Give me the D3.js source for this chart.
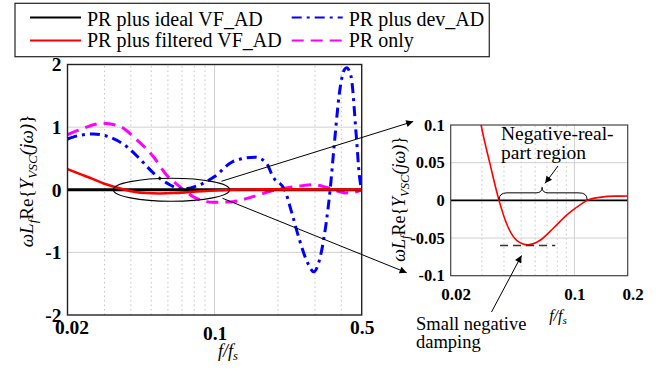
<!doctype html>
<html>
<meta charset="utf-8">
<style>
body { margin: 0; padding: 0; background: #fff; }
svg text { font-family: 'Liberation Serif', Tinos, 'Times New Roman', Times, 'Nimbus Roman', 'DejaVu Serif', serif; fill: #000; }
</style>
<body>
<svg width="664" height="375"></svg>
<script src="https://cdn.jsdelivr.net/npm/d3@7"></script>
<script>

// ---- data (f/fs , omega*Lf*Re{Y}) ----
var fIdeal = [0.02, 0.5];
var yIdeal = [0, 0];

var fDev = [0.02, 0.0229, 0.0265, 0.0318, 0.0382, 0.0445, 0.0511, 0.0612, 0.0706, 0.085, 0.1,
            0.122, 0.155, 0.176, 0.189, 0.2149, 0.2355, 0.253, 0.277, 0.296, 0.315, 0.339,
            0.354, 0.371, 0.392, 0.414, 0.424, 0.445, 0.47, 0.488, 0.5];
var yDev = [0.81, 0.87, 0.89, 0.84, 0.69, 0.48, 0.27, 0.08, 0.01, 0.08, 0.21,
            0.45, 0.52, 0.43, 0.21, 0, -0.43, -0.8, -1.17, -1.31, -1.12, -0.53,
            0, 0.75, 1.55, 1.92, 1.95, 1.81, 0.91, 0.21, 0];

var fFilt = [0.02, 0.023, 0.0265, 0.0297, 0.0333, 0.0375, 0.0414, 0.0472, 0.0548, 0.064,
             0.076, 0.0904, 0.1076, 0.118, 0.139, 0.17, 0.2, 0.3, 0.5];
var yFilt = [0.33, 0.25, 0.17, 0.1, 0.049, 0, -0.031, -0.053, -0.059, -0.053,
             -0.037, -0.0195, -0.006, 0, 0.004, 0.0056, 0.0057, 0.005, 0.004];

var fPR = [0.02, 0.0229, 0.0295, 0.0355, 0.0426, 0.0511, 0.059, 0.0683, 0.079, 0.0985,
           0.122, 0.152, 0.196, 0.253, 0.292, 0.339, 0.392, 0.42, 0.46, 0.5];
var yPR = [0.88, 0.96, 1.06, 1.01, 0.8, 0.53, 0.24, 0.05, -0.11, -0.2,
           -0.19, -0.11, 0, 0.06, 0.08, 0.04, -0.03, -0.05, -0.04, 0];

var legendNames = ["PR plus ideal VF_AD", "PR plus dev_AD", "PR plus filtered VF_AD", "PR only"];

var mainXTicks = [0.02, 0.1, 0.5];
var mainYTicks = [-2, -1, 0, 1, 2];
var zoomXTicks = [0.02, 0.1, 0.2];
var zoomYTicks = [-0.1, -0.05, 0, 0.05, 0.1];
var mainMinor = [0.03, 0.04, 0.05, 0.06, 0.07, 0.08, 0.09, 0.2, 0.3, 0.4];
var zoomMinor = [0.03, 0.04, 0.05, 0.06, 0.07, 0.08, 0.09];

// zoomed region and the damping level marked in the inset
var regionF = [0.033, 0.118];
var dampF = [0.038, 0.078];
var dampY = -0.06;

var SERIF = "'Liberation Serif', Tinos, 'Times New Roman', Times, 'Nimbus Roman', 'DejaVu Serif', serif";

function pts(fs, ys) { return fs.map(function(f, i) { return [f, ys[i]]; }); }

var series = [
  {name: legendNames[3], data: pts(fPR, yPR),       color: "#ff00ff", dash: "12,7",      w: 3},
  {name: legendNames[1], data: pts(fDev, yDev),     color: "#0000ff", dash: "10,5,3,5",  w: 3},
  {name: legendNames[0], data: pts(fIdeal, yIdeal), color: "#000000", dash: null,        w: 3.2},
  {name: legendNames[2], data: pts(fFilt, yFilt),   color: "#ff0000", dash: null,        w: 2.6}
];

var svg = d3.select("svg");

// ---- defs: arrow marker + clips ----
var defs = svg.append("defs");
defs.append("marker").attr("id", "arr")
    .attr("viewBox", "0 0 10 10").attr("refX", 10).attr("refY", 5)
    .attr("markerWidth", 11).attr("markerHeight", 7).attr("markerUnits", "userSpaceOnUse")
    .attr("orient", "auto")
  .append("path").attr("d", "M0,0 L10,5 L0,10 z").attr("fill", "#000");

// ---- main plot ----
var x = d3.scaleLog().domain([0.02, 0.5]).range([67.5, 361.7]);
var y = d3.scaleLinear().domain([-2, 2]).range([315, 64.5]);

defs.append("clipPath").attr("id", "clipMain").append("rect")
    .attr("x", x.range()[0]).attr("y", y.range()[1])
    .attr("width", x.range()[1] - x.range()[0]).attr("height", y.range()[0] - y.range()[1]);

var gm = svg.append("g");

// grid
gm.selectAll(".vmin").data(mainMinor).enter().append("line")
    .attr("x1", function(d) { return x(d); }).attr("x2", function(d) { return x(d); })
    .attr("y1", y(-2)).attr("y2", y(2))
    .attr("stroke", "#c4c4c4").attr("stroke-width", 1).attr("stroke-dasharray", "1.5,3");
gm.append("line").attr("x1", x(0.1)).attr("x2", x(0.1)).attr("y1", y(-2)).attr("y2", y(2))
    .attr("stroke", "#d0d0d0").attr("stroke-width", 1);
gm.selectAll(".hg").data([-1, 1]).enter().append("line")
    .attr("x1", x(0.02)).attr("x2", x(0.5))
    .attr("y1", function(d) { return y(d); }).attr("y2", function(d) { return y(d); })
    .attr("stroke", "#d0d0d0").attr("stroke-width", 1);

var line = d3.line().x(function(d) { return x(d[0]); }).y(function(d) { return y(d[1]); })
    .curve(d3.curveMonotoneX);

var gc = gm.append("g").attr("clip-path", "url(#clipMain)");
series.forEach(function(s) {
  gc.append("path").attr("d", line(s.data)).attr("fill", "none")
    .attr("stroke", s.color).attr("stroke-width", s.w)
    .attr("stroke-dasharray", s.dash);
});

gm.append("rect").attr("x", x.range()[0]).attr("y", y.range()[1])
    .attr("width", x.range()[1] - x.range()[0]).attr("height", y.range()[0] - y.range()[1])
    .attr("fill", "none").attr("stroke", "#222").attr("stroke-width", 1.4);

// axes
var ax = gm.append("g").attr("transform", "translate(0," + y(-2) + ")")
    .call(d3.axisBottom(x).tickValues(mainXTicks).tickFormat(function(d) { return String(d); })
      .tickSize(0).tickPadding(5));
ax.select(".domain").remove();
ax.selectAll("text").style("font-size", "19.5px").style("font-weight", "bold")
    .style("font-family", SERIF).attr("dx", function(d) { return d === 0.02 ? 4 : 0; })
    .attr("y", function(d) { return d === 0.1 ? 11 : 5; });

var ay = gm.append("g").attr("transform", "translate(" + x(0.02) + ",0)")
    .call(d3.axisLeft(y).tickValues(mainYTicks).tickFormat(function(d) { return String(d); })
      .tickSize(0).tickPadding(6));
ay.select(".domain").remove();
ay.selectAll("text").style("font-size", "19.5px").style("font-weight", "bold")
    .style("font-family", SERIF);

// f/fs label
function fLabel(g, cx, by, size) {
  var t = g.append("text").attr("x", cx).attr("y", by).attr("text-anchor", "middle")
      .style("font-size", size + "px").style("font-style", "italic");
  t.append("tspan").text("f/f");
  t.append("tspan").text("s").attr("dy", "0.25em").style("font-size", (size * 0.7) + "px");
}
fLabel(gm, 228, 357, 18);

// rotated y label
function yLabel(g, cx, cy, size) {
  var t = g.append("text").attr("transform", "translate(" + cx + "," + cy + ") rotate(-90)")
      .attr("text-anchor", "middle").style("font-size", size + "px");
  var sub = (size * 0.7) + "px";
  t.append("tspan").text("ωL").style("font-style", "italic");
  t.append("tspan").text("f").style("font-style", "italic").style("font-size", sub).attr("dy", "0.3em");
  t.append("tspan").text("Re{").attr("dy", "-0.21em");
  t.append("tspan").text("Y").style("font-style", "italic");
  t.append("tspan").text("VSC").style("font-style", "italic").style("font-size", sub).attr("dy", "0.3em");
  t.append("tspan").text("(jω)").style("font-style", "italic").attr("dy", "-0.21em");
  t.append("tspan").text("}");
}
yLabel(gm, 33, 181, 19);

// ellipse around the negative-real-part region
var ecx = (x(regionF[0]) + x(regionF[1])) / 2,
    erx = (x(regionF[1]) - x(regionF[0])) / 2,
    ecy = y(0),
    ery = 11.5;
gm.append("ellipse").attr("cx", ecx).attr("cy", ecy).attr("rx", erx).attr("ry", ery)
    .attr("fill", "none").attr("stroke", "#000").attr("stroke-width", 1.1);

// ---- zoomed inset ----
var xr = d3.scaleLog().domain([0.02, 0.2]).range([450.7, 627.7]);
var yr = d3.scaleLinear().domain([-0.1, 0.1]).range([275.7, 125]);

defs.append("clipPath").attr("id", "clipZoom").append("rect")
    .attr("x", xr.range()[0]).attr("y", yr.range()[1])
    .attr("width", xr.range()[1] - xr.range()[0]).attr("height", yr.range()[0] - yr.range()[1]);

var gz = svg.append("g");
gz.selectAll(".vmin").data(zoomMinor).enter().append("line")
    .attr("x1", function(d) { return xr(d); }).attr("x2", function(d) { return xr(d); })
    .attr("y1", yr(-0.1)).attr("y2", yr(0.1))
    .attr("stroke", "#c4c4c4").attr("stroke-width", 1).attr("stroke-dasharray", "1.5,3");
gz.append("line").attr("x1", xr(0.1)).attr("x2", xr(0.1)).attr("y1", yr(-0.1)).attr("y2", yr(0.1))
    .attr("stroke", "#d0d0d0").attr("stroke-width", 1);
gz.selectAll(".hg").data([-0.05, 0.05]).enter().append("line")
    .attr("x1", xr(0.02)).attr("x2", xr(0.2))
    .attr("y1", function(d) { return yr(d); }).attr("y2", function(d) { return yr(d); })
    .attr("stroke", "#d0d0d0").attr("stroke-width", 1);

var lineZ = d3.line().x(function(d) { return xr(d[0]); }).y(function(d) { return yr(d[1]); })
    .curve(d3.curveMonotoneX);
var gzc = gz.append("g").attr("clip-path", "url(#clipZoom)");
gzc.append("path").attr("d", lineZ(pts(fIdeal, yIdeal))).attr("fill", "none")
    .attr("stroke", "#000").attr("stroke-width", 1.6);
gzc.append("path").attr("d", lineZ(pts(fFilt, yFilt))).attr("fill", "none")
    .attr("stroke", "#ff0000").attr("stroke-width", 1.6);

gz.append("rect").attr("x", xr.range()[0]).attr("y", yr.range()[1])
    .attr("width", xr.range()[1] - xr.range()[0]).attr("height", yr.range()[0] - yr.range()[1])
    .attr("fill", "none").attr("stroke", "#444").attr("stroke-width", 1.2);

var zx = gz.append("g").attr("transform", "translate(0," + yr(-0.1) + ")")
    .call(d3.axisBottom(xr).tickValues(zoomXTicks).tickFormat(function(d) { return String(d); })
      .tickSize(0).tickPadding(12));
zx.select(".domain").remove();
zx.selectAll("text").style("font-size", "17px").style("font-weight", "bold")
    .style("font-family", SERIF)
    .attr("dx", function(d) { return d === 0.02 ? 5 : (d === 0.2 ? 5 : 0); });

var zy = gz.append("g").attr("transform", "translate(" + xr(0.02) + ",0)")
    .call(d3.axisLeft(yr).tickValues(zoomYTicks).tickFormat(function(d) { return String(d); })
      .tickSize(0).tickPadding(6));
zy.select(".domain").remove();
zy.selectAll("text").style("font-size", "16.5px").style("font-weight", "bold")
    .style("font-family", SERIF);

fLabel(gz, 558, 321, 16);
yLabel(gz, 405, 199, 18);

// damping level
gz.append("line").attr("x1", xr(dampF[0])).attr("x2", xr(dampF[1]))
    .attr("y1", yr(dampY)).attr("y2", yr(dampY))
    .attr("stroke", "#333").attr("stroke-width", 1.5).attr("stroke-dasharray", "8,5");

// brace over the negative-real-part region
var bx1 = xr(0.0375), bx2 = xr(0.118), bxm = (bx1 + bx2) / 2 - 1,
    by0 = yr(0) - 0.5, bym = yr(0) - 7.5, byt = yr(0) - 13;
gz.append("path")
    .attr("d", "M" + bx1 + "," + by0 + " Q" + bx1 + "," + bym + " " + (bx1 + 8) + "," + bym +
               " L" + (bxm - 6) + "," + bym + " Q" + bxm + "," + bym + " " + bxm + "," + byt +
               " Q" + bxm + "," + bym + " " + (bxm + 6) + "," + bym +
               " L" + (bx2 - 8) + "," + bym + " Q" + bx2 + "," + bym + " " + bx2 + "," + by0)
    .attr("fill", "none").attr("stroke", "#000").attr("stroke-width", 1);

gz.append("text").attr("x", 501).attr("y", 140).style("font-size", "19.5px").text("Negative-real-");
gz.append("text").attr("x", 501).attr("y", 159).style("font-size", "19.5px").text("part region");
gz.append("line").attr("x1", 558).attr("y1", 166).attr("x2", bxm + 3).attr("y2", byt - 4)
    .attr("stroke", "#000").attr("stroke-width", 1).attr("marker-end", "url(#arr)");

gz.append("text").attr("x", 416).attr("y", 330).style("font-size", "18.5px").text("Small negative");
gz.append("text").attr("x", 416).attr("y", 348).style("font-size", "18.5px").text("damping");
gz.append("line").attr("x1", 491.5).attr("y1", 312).attr("x2", 521.5).attr("y2", yr(dampY) + 10)
    .attr("stroke", "#000").attr("stroke-width", 1).attr("marker-end", "url(#arr)");

// connector arrows from ellipse to the inset
svg.append("line").attr("x1", ecx + 50).attr("y1", ecy - 8.5)
    .attr("x2", xr(0.02) - 37.5).attr("y2", yr(0.1) - 3.5)
    .attr("stroke", "#000").attr("stroke-width", 1).attr("marker-end", "url(#arr)");
svg.append("line").attr("x1", ecx + 51).attr("y1", ecy + 8.5)
    .attr("x2", xr(0.02) - 44).attr("y2", yr(-0.1) - 3)
    .attr("stroke", "#000").attr("stroke-width", 1).attr("marker-end", "url(#arr)");

// ---- legend ----
var lg = svg.append("g");
var legendBox = lg.append("rect").attr("x", 15).attr("y", 3.3).attr("height", 53.4)
    .attr("fill", "#fff").attr("stroke", "#222").attr("stroke-width", 1.2);
var cols = [30, 291.7], rowsLine = [17.5, 40.5], rowsText = [26, 47];
var maxRight = 0;
legendNames.forEach(function(name, i) {
  var s = series.filter(function(d) { return d.name === name; })[0];
  var c = i % 2, r = Math.floor(i / 2);
  lg.append("line").attr("x1", cols[c]).attr("x2", cols[c] + 51)
    .attr("y1", rowsLine[r]).attr("y2", rowsLine[r])
    .attr("stroke", s.color).attr("stroke-width", 2.2).attr("stroke-dasharray", s.dash);
  var t = lg.append("text").attr("x", cols[c] + 57).attr("y", rowsText[r])
    .style("font-size", "20px").text(name);
  maxRight = Math.max(maxRight, cols[c] + 57 + t.node().getComputedTextLength());
});
legendBox.attr("width", maxRight + 5 - 15);

</script>
</body>
</html>
